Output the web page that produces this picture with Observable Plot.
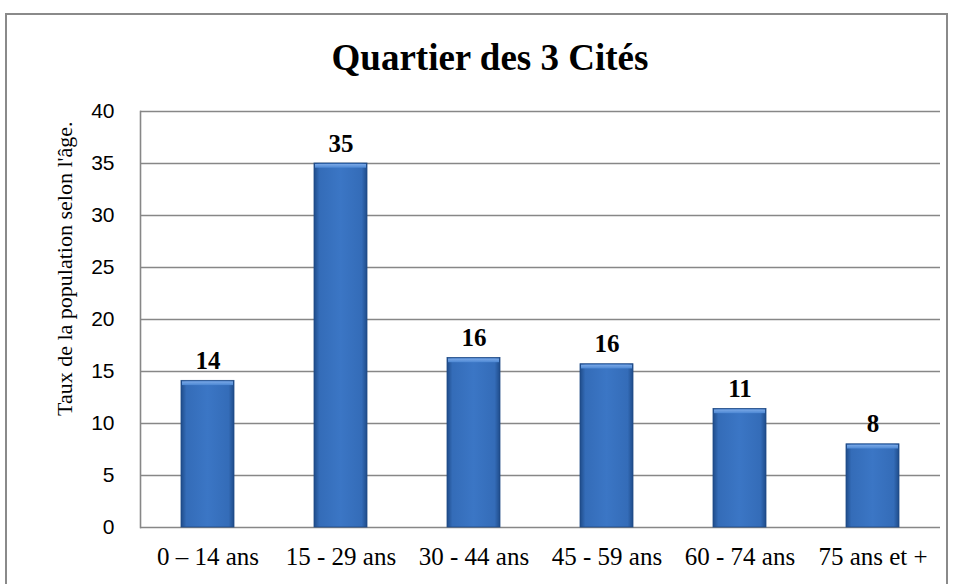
<!DOCTYPE html>
<html>
<head>
<meta charset="utf-8">
<script src="https://cdn.jsdelivr.net/npm/d3@7"></script>
<script src="https://cdn.jsdelivr.net/npm/@observablehq/plot@0.6"></script>
<style>
  html, body { margin: 0; padding: 0; background: #fff; }
  #wrap { position: relative; width: 957px; height: 584px; overflow: hidden; }
  #border { position: absolute; left: 5px; top: 13px; width: 943px; height: 600px; border: 2px solid #8a8a8a; box-sizing: border-box; }
  #title { position: absolute; left: 0; width: 980px; top: 39px; line-height: 1; text-align: center;
           font-family: "Liberation Serif", serif; font-weight: bold; font-size: 37px; color: #000; }
  #chart { position: absolute; left: 0; top: 0; }
</style>
</head>
<body>
<div id="wrap">
  <div id="border"></div>
  <div id="chart"></div>
  <div id="title">Quartier des 3 Cités</div>
</div>
<script>
const categories = ["0 – 14 ans", "15 - 29 ans", "30 - 44 ans", "45 - 59 ans", "60 - 74 ans", "75 ans et +"];
const values = [14.1, 35, 16.3, 15.7, 11.4, 8.0];
const labels = ["14", "35", "16", "16", "11", "8"];
const yTicks = [0, 5, 10, 15, 20, 25, 30, 35, 40];
const yLabel = "Taux de la population selon l'âge.";

const data = categories.map((c, i) => ({cat: c, value: values[i], label: labels[i]}));

const chart = Plot.plot({
  width: 957,
  height: 584,
  marginLeft: 140,
  marginRight: 17,
  marginTop: 111,
  marginBottom: 57,
  style: {background: "transparent", overflow: "visible"},
  x: {domain: categories, paddingInner: 0.6, paddingOuter: 0.3, label: null},
  y: {domain: [0, 40], ticks: yTicks, label: null},
  marks: [
    Plot.ruleY(yTicks, {stroke: "#878787", strokeWidth: 1.6}),
    Plot.frame({anchor: "left", stroke: "#878787", strokeWidth: 1.6}),
    Plot.barY(data, {x: "cat", y: "value", fill: "url(#barGrad)", stroke: "#1f4a86", strokeWidth: 0.8}),
    Plot.rectY(data, {x: "cat", y1: d => d.value - 0.55, y2: "value", fill: "url(#bevelGrad)", inset: 1}),
    Plot.text(data, {x: "cat", y: "value", text: "label", lineAnchor: "bottom", dy: -12, fontFamily: "Liberation Serif", fontWeight: "bold", fontSize: 25, fill: "#000"}),
    Plot.text([yLabel], {frameAnchor: "top-left", text: d => d, rotate: -90, textAnchor: "end", dx: -84, dy: 10, fontFamily: "Liberation Serif", fontSize: 22, fill: "#000"}),
    Plot.axisY({ticks: yTicks, tickSize: 0, tickPadding: 26, fontFamily: "Liberation Sans", fontSize: 21, fill: "#000", label: null}),
    Plot.axisX({tickSize: 0, tickPadding: 20, fontFamily: "Liberation Serif", fontSize: 25, fill: "#000", label: null})
  ]
});

const defs = `
<defs>
  <linearGradient id="barGrad" x1="0" x2="1" y1="0" y2="0">
    <stop offset="0%" stop-color="#1f4c8a"/>
    <stop offset="10%" stop-color="#346cb8"/>
    <stop offset="50%" stop-color="#3b76c5"/>
    <stop offset="90%" stop-color="#346cb8"/>
    <stop offset="100%" stop-color="#1f4c8a"/>
  </linearGradient>
  <linearGradient id="bevelGrad" x1="0" x2="0" y1="0" y2="1">
    <stop offset="0%" stop-color="#7aa8e6"/>
    <stop offset="100%" stop-color="#4d88d4"/>
  </linearGradient>
</defs>`;
chart.insertAdjacentHTML("afterbegin", defs);
document.getElementById("chart").appendChild(chart);
</script>
</body>
</html>
